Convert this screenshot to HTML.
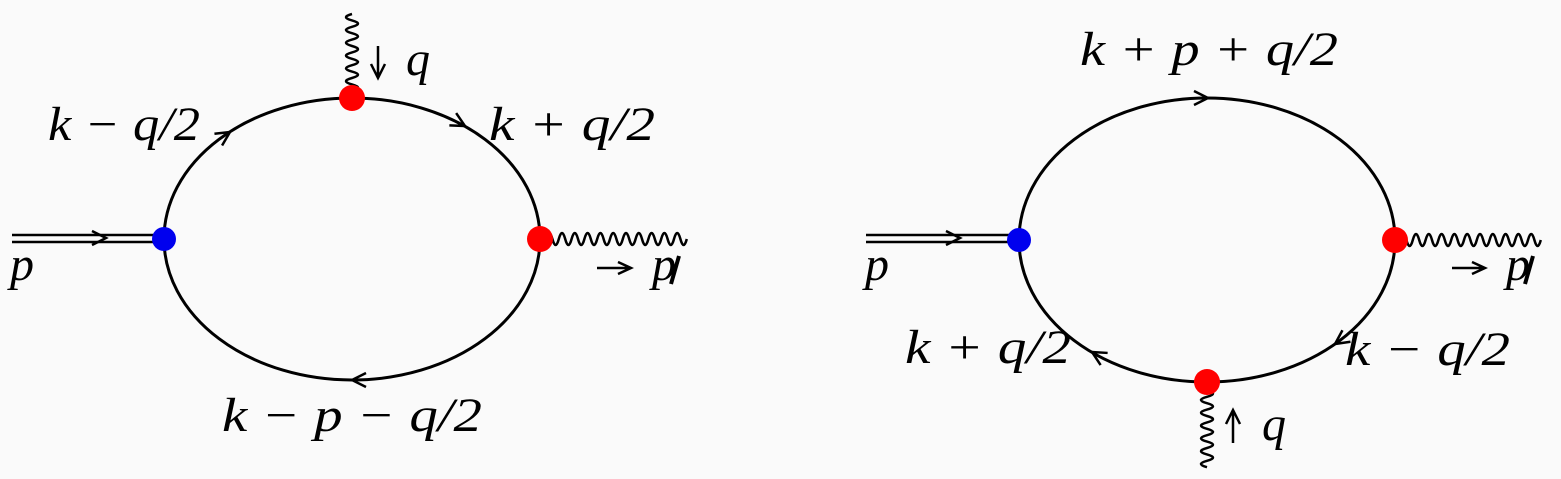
<!DOCTYPE html>
<html><head><style>html,body{margin:0;padding:0;background:#fafafa;}svg{display:block}
.t{font-family:"Liberation Serif","DejaVu Serif",serif;font-style:italic;font-size:48px;fill:#000}</style></head>
<body>
<svg width="1561" height="479" viewBox="0 0 1561 479" xmlns="http://www.w3.org/2000/svg">
<defs>
<path id="hw" d="M0,0 q3.2,-12 6.4,0 t6.4,0 t6.4,0 t6.4,0 t6.4,0 t6.4,0 t6.4,0 t6.4,0 t6.4,0 t6.4,0 t6.4,0 t6.4,0 t6.4,0 t6.4,0 t6.4,0 t6.4,0 t6.4,0 t6.4,0 t6.4,0 t6.4,0 t6.4,0 t6.4,0"/>
<path id="vw" d="M0,0 q-12,3.2 0,6.4 t0,6.4 t0,6.4 t0,6.4 t0,6.4 t0,6.4 t0,6.4 t0,6.4 t0,6.4 t0,6.4 t0,6.4 t0,6.4 t0,6.4"/>
<path id="ch" d="M-14,-7 L0,0 L-14,7"/>
</defs>
<g fill="none" stroke="#000" stroke-width="3">
<ellipse cx="352" cy="239" rx="188" ry="141"/>
<line x1="12" y1="235" x2="160" y2="235" stroke-width="2.5"/>
<line x1="12" y1="242" x2="160" y2="242" stroke-width="2.5"/>
<path d="M92,231 L106,238 L92,245" stroke-width="2.5"/>
<use href="#hw" x="546" y="239" stroke-width="2.5"/>
<use href="#vw" x="352" y="14" stroke-width="2.5"/>
<path d="M378,46 L378,77 M371,64 L378,78 L385,64" stroke-width="2.5"/>
<path d="M597,268 L630,268 M618,262 L631,268 L618,274" stroke-width="2.5"/>
<use href="#ch" transform="translate(230,132) rotate(-33)" stroke-width="2.5"/>
<use href="#ch" transform="translate(465,126) rotate(29)" stroke-width="2.5"/>
<use href="#ch" transform="translate(352,380) rotate(180)" stroke-width="2.5"/>
<line x1="679" y1="256" x2="671" y2="284" stroke-width="4"/>
<ellipse cx="1207" cy="240" rx="188" ry="142"/>
<line x1="866" y1="235" x2="1014" y2="235" stroke-width="2.5"/>
<line x1="866" y1="242" x2="1014" y2="242" stroke-width="2.5"/>
<path d="M946,231 L960,238 L946,245" stroke-width="2.5"/>
<use href="#hw" x="1400" y="240" stroke-width="2.5"/>
<use href="#vw" x="1207" y="384" stroke-width="2.5"/>
<path d="M1233,443 L1233,410 M1226,424 L1233,410 L1240,424" stroke-width="2.5"/>
<path d="M1452,268 L1484,268 M1472,262 L1485,268 L1472,274" stroke-width="2.5"/>
<use href="#ch" transform="translate(1208,98)" stroke-width="2.5"/>
<use href="#ch" transform="translate(1335,344) rotate(145)" stroke-width="2.5"/>
<use href="#ch" transform="translate(1092,352) rotate(210)" stroke-width="2.5"/>
<line x1="1533" y1="256" x2="1525" y2="284" stroke-width="4"/>
</g>
<g stroke="none">
<circle cx="164" cy="239" r="12" fill="#0000ee"/>
<circle cx="352" cy="98" r="13" fill="#ff0000"/>
<circle cx="540" cy="239" r="13" fill="#ff0000"/>
<circle cx="1019" cy="240" r="12" fill="#0000ee"/>
<circle cx="1395" cy="240" r="13" fill="#ff0000"/>
<circle cx="1207" cy="382" r="13" fill="#ff0000"/>
</g>
<g>
<text class="t" x="48" y="140" textLength="152" lengthAdjust="spacingAndGlyphs">k − q/2</text>
<text class="t" x="489" y="140" textLength="166" lengthAdjust="spacingAndGlyphs">k + q/2</text>
<text class="t" x="222" y="431" textLength="260" lengthAdjust="spacingAndGlyphs">k − p − q/2</text>
<text class="t" x="406" y="75">q</text>
<text class="t" x="10" y="280">p</text>
<text class="t" x="652" y="280">p</text>
<text class="t" x="1080" y="65" textLength="258" lengthAdjust="spacingAndGlyphs">k + p + q/2</text>
<text class="t" x="905" y="363" textLength="166" lengthAdjust="spacingAndGlyphs">k + q/2</text>
<text class="t" x="1345" y="365" textLength="165" lengthAdjust="spacingAndGlyphs">k − q/2</text>
<text class="t" x="1262" y="440">q</text>
<text class="t" x="865" y="280">p</text>
<text class="t" x="1506" y="280">p</text>
</g>
</svg>
</body></html>
